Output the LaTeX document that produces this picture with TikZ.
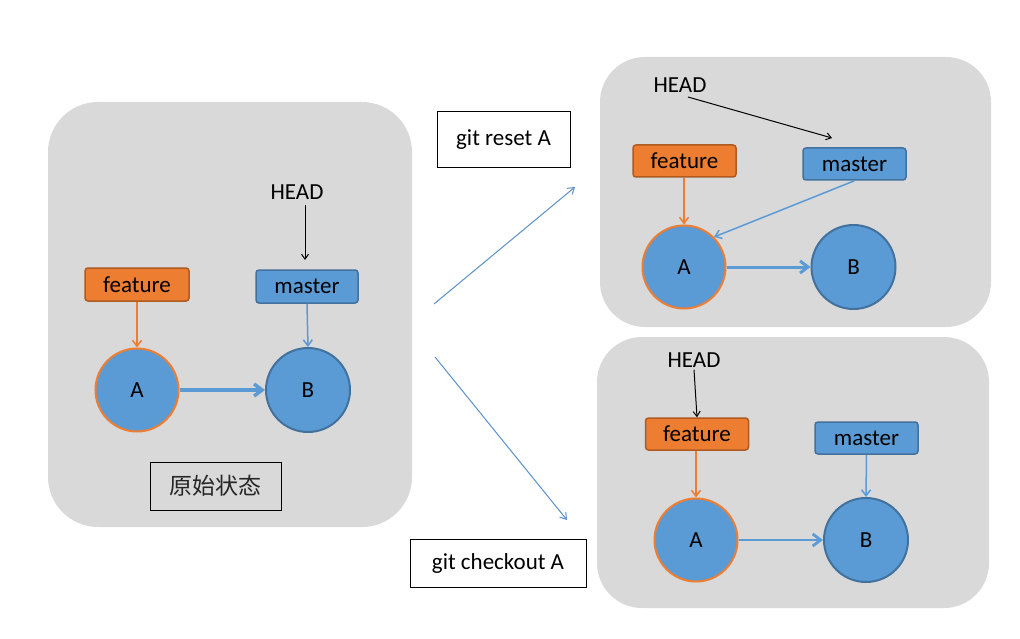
\documentclass[tikz,border=0pt]{standalone}
\usepackage{fontspec}
\setmainfont{Carlito}
\newfontfamily\cjk{Noto Sans CJK SC}
\usetikzlibrary{arrows.meta}
\definecolor{panelgray}{HTML}{D9D9D9}
\definecolor{gblue}{HTML}{5B9BD5}
\definecolor{gbluedark}{HTML}{41719C}
\definecolor{gorange}{HTML}{ED7D31}
\definecolor{gorangedark}{HTML}{AE5A21}
\definecolor{linkblue}{HTML}{5B8FC9}
\tikzset{
  panel/.style={fill=panelgray, draw=none, rounded corners=50pt},
  txt/.style={font=\fontsize{23}{27}\selectfont, inner sep=0pt},
  featbox/.style={draw=gorangedark, fill=gorange, line width=1.5pt, rounded corners=3pt,
     minimum width=103pt, minimum height=32pt, inner sep=0pt, font=\fontsize{23}{27}\selectfont},
  mastbox/.style={draw=gbluedark, fill=gblue, line width=1.5pt, rounded corners=3pt,
     minimum width=103pt, minimum height=32pt, inner sep=0pt, font=\fontsize{23}{27}\selectfont},
  commitA/.style={circle, draw=gorange, fill=gblue, line width=2pt, minimum size=83pt, inner sep=0pt, font=\fontsize{23}{27}\selectfont},
  commitB/.style={circle, draw=gbluedark, fill=gblue, line width=2pt, minimum size=84pt, inner sep=0pt, font=\fontsize{23}{27}\selectfont},
  cmdbox/.style={draw=black, fill=white, line width=1pt, inner sep=0pt, font=\fontsize{23}{27}\selectfont},
  headarrow/.style={-{Straight Barb[length=5pt,width=7pt]}, black, line width=1pt},
  featarrow/.style={-{Straight Barb[length=6pt,width=9pt]}, gorange, line width=1.5pt},
  mastarrow/.style={-{Straight Barb[length=6pt,width=9pt]}, gblue, line width=1.5pt},
  commitarrow/.style={-{Straight Barb[length=8pt,width=12pt]}, gblue, line width=3pt},
  steparrow/.style={-{Straight Barb[length=6pt,width=8pt]}, linkblue, line width=1pt},
}
\begin{document}
\begin{tikzpicture}[x=1pt,y=-1pt]
\useasboundingbox (0,0) rectangle (1020,639);
% panels
\fill[panel] (48,102) rectangle (412,527);
\fill[panel, rounded corners=45pt] (600,57) rectangle (991,327);
\fill[panel, rounded corners=45pt] (597,337) rectangle (989,608);

% ---------- left: original state ----------
\node[txt] (lhead) at (297,192) {HEAD};
\node[featbox, minimum width=104pt, minimum height=33pt] (lfeat) at (137,284.5) {feature};
\node[mastbox, minimum width=102pt, minimum height=33pt] (lmast) at (307,286.5) {master};
\node[commitA] (lA) at (137,390) {A};
\node[commitB] (lB) at (308,390) {B};
\coordinate (lheadtip) at (305,260);
\draw[headarrow] (305,205) -- (lheadtip);
\draw[featarrow] (lfeat.south) -- (lA.north);
\draw[mastarrow] (lmast.south) -- (lB.north);
\draw[commitarrow, line width=3.5pt] (lA.east) -- (lB.west);
\node[draw=black, line width=1pt, minimum width=131pt, minimum height=48pt, inner sep=0pt,
      font=\cjk\fontsize{23}{27}\selectfont, text=black!85] (orig) at (215.5,486) {原始状态};

% ---------- middle: commands ----------
\node[cmdbox, minimum width=133pt, minimum height=56pt] (reset) at (503.5,140) {git reset A};
\node[cmdbox, minimum width=176pt, minimum height=48pt] (checkout) at (498,563) {git checkout A};
\coordinate (s1a) at (434,304);
\coordinate (s1b) at (575,187);
\coordinate (s2a) at (435,357);
\coordinate (s2b) at (567,520);
\draw[steparrow] (s1a) -- (s1b);
\draw[steparrow] (s2a) -- (s2b);

% ---------- top right: after git reset A ----------
\node[txt] (rhead) at (680,85) {HEAD};
\node[featbox] (rfeat) at (684.5,161) {feature};
\node[mastbox] (rmast) at (854.5,164) {master};
\node[commitA] (rA) at (684,267) {A};
\node[commitB] (rB) at (853.5,267) {B};
\coordinate (rheadtail) at (688,97);
\coordinate (rheadtip) at (832,138);
\draw[headarrow] (rheadtail) -- (rheadtip);
\draw[featarrow] (rfeat.south -| rA.north) -- (rA.north);
\draw[mastarrow] (rmast.south) -- (rA.north east);
\draw[commitarrow] (rA.east) -- (rB.west);

% ---------- bottom right: after git checkout A ----------
\node[txt] (chead) at (694,360) {HEAD};
\node[featbox] (cfeat) at (697,434) {feature};
\node[mastbox] (cmast) at (866.5,438) {master};
\node[commitA] (cA) at (696,540) {A};
\node[commitB] (cB) at (866,540) {B};
\draw[headarrow] (chead.south) ++(0,2) -- (cfeat.north);
\draw[featarrow] (cfeat.south -| cA.north) -- (cA.north);
\draw[mastarrow] (cmast.south) -- (cB.north);
\draw[commitarrow, line width=2.8pt] (cA.east) -- (cB.west);
\end{tikzpicture}
\end{document}
